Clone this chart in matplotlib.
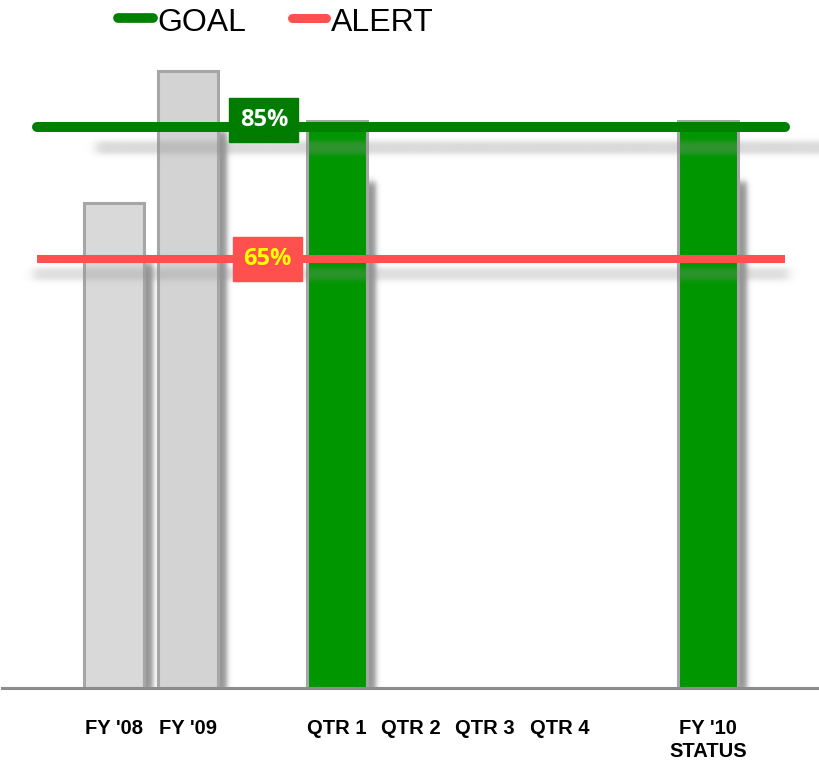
import numpy as np
import matplotlib
matplotlib.use("Agg")
import matplotlib.pyplot as plt
from matplotlib.colors import to_rgb
from matplotlib.lines import Line2D
from matplotlib.patches import Rectangle

# chart data
categories = ["FY '08", "FY '09", "QTR 1", "QTR 2", "QTR 3", "QTR 4", "FY '10\nSTATUS"]
positions = [0, 1, 3, 4, 5, 6, 8]
values = [73.5, 93.5, 85.8, np.nan, np.nan, np.nan, 85.8]
bar_colors = ["#d9d9d9", "#d3d3d3", "#009600", "#009600", "#009600", "#009600", "#009600"]
goal = 85
alert = 65
goal_label = "85%"
alert_label = "65%"

W, H = 820, 763
fig = plt.figure(figsize=(W / 100, H / 100), dpi=100)
base_px = 688
ax = fig.add_axes([0, (H - base_px) / H, 1, base_px / H])
xlim = (-1.535, 9.508)
ylim = (0, 104.2)

# pixel -> data unit helpers
dx = (xlim[1] - xlim[0]) / W
dy = (ylim[1] - ylim[0]) / base_px


def soft_rect(x0, x1, y0, y1, sx, sy, color, alpha, zorder):
    # blurred rectangle drawn as an rgba image
    n = 300
    xs = np.linspace(x0 - 3 * sx, x1 + 3 * sx, n)
    ys = np.linspace(y0 - 3 * sy, y1 + 3 * sy, n)
    ax_ = 0.5 * (np.tanh((xs - x0) / sx) - np.tanh((xs - x1) / sx))
    ay_ = 0.5 * (np.tanh((ys - y0) / sy) - np.tanh((ys - y1) / sy))
    img = np.zeros((n, n, 4))
    img[..., :3] = to_rgb(color)
    img[..., 3] = np.outer(ay_, ax_) * alpha
    ax.imshow(img, extent=(xs[0], xs[-1], ys[0], ys[-1]), origin="lower",
              aspect="auto", zorder=zorder, interpolation="bilinear")


width = 0.81
for p, v, c in zip(positions, values, bar_colors):
    if np.isnan(v):
        continue
    # drop shadow to the right of each bar
    soft_rect(p + width / 2 - 4 * dx, p + width / 2 + 9 * dx, -5 * dy, v - 60 * dy,
              3 * dx, 4 * dy, "black", 0.42, 1)
    ax.bar(p, v, width=width, color=c, edgecolor="#a6a6a6", linewidth=2.2, zorder=2)

# blurred shadows under the reference lines
soft_rect(xlim[0] + 95 * dx, xlim[1] + 20 * dx, goal - 27 * dy, goal - 15 * dy,
          6 * dx, 3 * dy, "#909090", 0.35, 3)
soft_rect(xlim[0] + 32 * dx, xlim[0] + 790 * dx, alert - 21 * dy, alert - 9 * dy,
          6 * dx, 3 * dy, "#909090", 0.3, 3)

# goal / alert lines
ax.plot([-1.04, 9.04], [goal, goal], color="#008000", lw=7.2,
        solid_capstyle="round", zorder=4)
ax.plot([-1.04, 9.04], [alert, alert], color="#ff5050", lw=5.8,
        solid_capstyle="butt", zorder=4)

# value tags on the lines
tag_font = ["Open Sans", "DejaVu Sans"]
bw, bh = 69 * dx, 44 * dy
gx, gy = 2.02, goal + 1.0
ax.add_patch(Rectangle((gx - bw / 2, gy - bh / 2), bw, bh, color="#007d00", zorder=5))
ax.text(gx, gy, goal_label, color="white", fontsize=17, fontweight="bold",
        family=tag_font, ha="center", va="center", zorder=6)
ax_x, ax_y = 2.07, alert - 0.1
ax.add_patch(Rectangle((ax_x - bw / 2, ax_y - bh / 2), bw, bh, color="#ff5050", zorder=5))
ax.text(ax_x, ax_y, alert_label, color="#ffff00", fontsize=17, fontweight="bold",
        family=tag_font, ha="center", va="center", zorder=6)

# baseline
ax.axhline(0, xmin=2 / W, xmax=817 / W, color="#8c8c8c", lw=2.2, zorder=7, clip_on=False)

ax.set_xticks(positions)
ax.set_xticklabels(categories, fontsize=14.5, fontweight="bold",
                   family=["Liberation Sans", "DejaVu Sans"], linespacing=1.3)
ax.tick_params(axis="x", length=0, pad=22)
ax.set_yticks([])
for s in ax.spines.values():
    s.set_visible(False)
ax.set_xlim(*xlim)
ax.set_ylim(*ylim)

# legend across the top
legend_font = ["Liberation Sans", "DejaVu Sans"]
fig.add_artist(Line2D([118 / W, 153 / W], [1 - 18 / H, 1 - 18 / H], color="#008000",
                      lw=7, solid_capstyle="round", transform=fig.transFigure))
fig.text(157 / W, 1 - 31 / H, "GOAL", fontsize=23, family=legend_font,
         ha="left", va="baseline")
fig.add_artist(Line2D([292 / W, 326 / W], [1 - 18 / H, 1 - 18 / H], color="#ff5050",
                      lw=6.5, solid_capstyle="round", transform=fig.transFigure))
fig.text(331 / W, 1 - 31 / H, "ALERT", fontsize=23, family=legend_font,
         ha="left", va="baseline")

fig.savefig("out.png", dpi=100, facecolor="white")
